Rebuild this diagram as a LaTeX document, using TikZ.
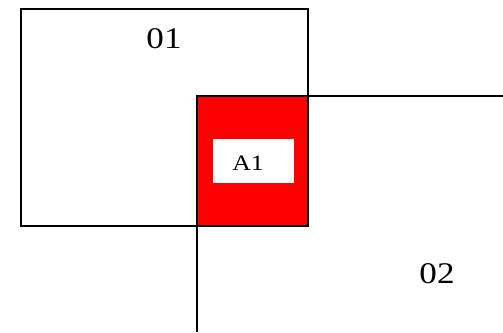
\documentclass[tikz,border=0pt]{standalone}
\usepackage{fontspec}
\setmainfont{Liberation Serif}
\newfontfamily\wideserif[FakeStretch=1.17]{Liberation Serif}
\begin{document}
\begin{tikzpicture}
[x=1pt, y=-1pt, line width=2pt, font=\wideserif]

\tikzstyle{region}=[rectangle, draw, inner sep=0pt]
\tikzstyle{regionname}=[inner sep=0pt, font=\wideserif\fontsize{30}{30}\selectfont]
\tikzstyle{areaname}=[inner sep=0pt, font=\wideserif\fontsize{22}{22}\selectfont]
\useasboundingbox (0,0) rectangle (503,332);

\node[region, minimum width=287pt, minimum height=217pt]	(R01)	at (164.5,117.5)	{};
\coordinate	(R02bottom)	at (197,332);
\coordinate	(R02corner)	at (197,96);
\coordinate	(R02right)	at (503,96);
\draw (R02bottom)--(R02corner)--(R02right);

\node[region, fill=red, minimum width=111pt, minimum height=130pt]	(A)	at (252.5,161)	{};
\node[fill=white, inner sep=0pt, minimum width=81pt, minimum height=44pt]	(A1box)	at (253.5,161)	{};
\node[areaname]	(A1)	at (248,163.3)	{A1};

\node[regionname]	(L01)	at (164,38.3)	{01};
\node[regionname]	(L02)	at (437,273.3)	{02};
\end{tikzpicture}
\end{document}
